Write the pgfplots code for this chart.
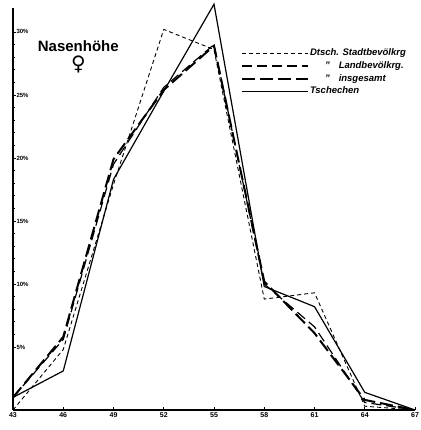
\documentclass[border=0pt]{standalone}
\usepackage{pgfplots}
\pgfplotsset{compat=1.18}
\usepackage{fontspec}
\setmainfont{Liberation Sans}
\newfontfamily\symfont{DejaVu Sans}

\begin{document}
\begin{tikzpicture}[x=1pt,y=1pt]
\useasboundingbox (-13,-20) rectangle (407,410);
\begin{axis}[
  at={(0pt,0pt)}, anchor=south west,
  scale only axis, width=402pt, height=402pt,
  xmin=43, xmax=67, ymin=0, ymax=31.9,
  clip=false,
  axis lines=left,
  axis line style={-, line width=1.2pt},
  xtick={43,46,...,67},
  ytick={5,10,...,30},
  minor y tick num=4,
  tick align=inside,
  major tick length=3pt, minor tick length=2pt,
  tick style={line width=0.8pt, black},
  /pgf/number format/assume math mode=true,
  xticklabel style={font=\fontsize{7}{7}\selectfont\bfseries, yshift=1pt},
  yticklabel style={font=\fontsize{6}{6}\selectfont\bfseries, anchor=west, xshift=0pt},
  yticklabel={\pgfmathprintnumber{\tick}\%},
  legend style={draw=none, fill=none, at={(axis cs:56.6,28.8)}, anchor=north west,
    font=\fontsize{9.5}{10}\selectfont\bfseries\itshape, row sep=0.7pt, inner sep=0pt,
    nodes={inner sep=1pt, text height=7.5pt, text depth=2.5pt}},
  legend cell align=left,
  legend image code/.code={\draw[#1] (0pt,0pt) -- (66pt,0pt);},
]
% Dtsch. Stadtbevoelkerung
\addplot[black, line width=0.9pt, dash pattern=on 4pt off 3pt] coordinates {
  (43,0) (46,4.8) (49,17.9) (52,30.2) (55,28.6) (58,8.8) (61,9.3) (64,0.3) (67,0)};
% Landbevoelkerung
\addplot[black, line width=1.2pt, dash pattern=on 10pt off 5pt] coordinates {
  (43,1.0) (46,5.6) (49,19.5) (52,25.6) (55,29.0) (58,10.0) (61,6.6) (64,0.6) (67,0)};
% insgesamt
\addplot[black, line width=2pt, dash pattern=on 13pt off 5pt] coordinates {
  (43,1.0) (46,5.8) (49,19.9) (52,25.4) (55,28.9) (58,10.2) (61,6.1) (64,0.8) (67,0)};
% Tschechen
\addplot[black, line width=1.2pt] coordinates {
  (43,1.0) (46,3.1) (49,18.3) (52,25.3) (55,32.2) (58,9.8) (61,8.2) (64,1.4) (67,0)};
\legend{Dtsch. Stadtbevölkrg,
  \hspace*{15pt}"\hspace*{9pt}Landbevölkrg.,
  \hspace*{15pt}"\hspace*{9pt}insgesamt,
  Tschechen}
\node[font=\fontsize{15}{15}\selectfont\bfseries] at (axis cs:46.9,28.9) {Nasenhöhe};
\node[font=\symfont\bfseries\fontsize{20}{20}\selectfont] at (axis cs:46.9,27.4) {♀};
\end{axis}
\end{tikzpicture}
\end{document}
